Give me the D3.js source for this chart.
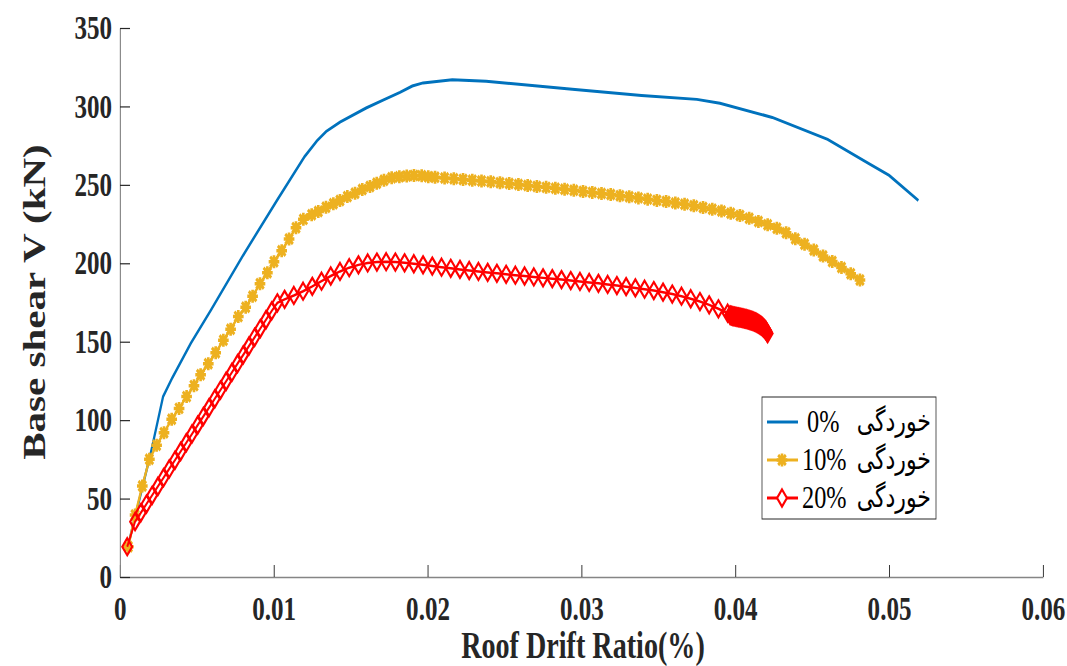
<!DOCTYPE html>
<html>
<head>
<meta charset="utf-8">
<script src="https://cdn.jsdelivr.net/npm/d3@7"></script>
<style>
body { margin: 0; background: #fff; }
</style>
</head>
<body>
<svg id="chart"></svg>
<script>
// tick labels
var xTicks = [0, 0.01, 0.02, 0.03, 0.04, 0.05, 0.06];
var yTicks = [0, 50, 100, 150, 200, 250, 300, 350];

// 0% corrosion (blue line, no markers)
var drift0 = [0.0005, 0.0015, 0.002, 0.0028, 0.0034, 0.0046, 0.0059, 0.0080, 0.0102, 0.0120, 0.0128, 0.0134, 0.0143,
    0.0160, 0.0171, 0.0182, 0.0190, 0.0197, 0.0216, 0.0238, 0.0294, 0.0339, 0.0375, 0.0390, 0.0424, 0.0460,
    0.0486, 0.0500, 0.0519];
var shear0 = [19, 59, 79, 115, 127, 149, 170, 205, 240, 268, 278, 284, 290,
    299, 304, 309, 313, 315, 317, 316, 311, 307, 304.5, 302, 293, 279,
    264, 256, 240];

// 10% corrosion (yellow, asterisks)
var drift10 = [0.00054, 0.00098, 0.00145, 0.00191, 0.00238, 0.00286, 0.00336, 0.00384, 0.00433, 0.00481,
    0.00524, 0.00574, 0.00622, 0.00672, 0.00719, 0.00769, 0.00817, 0.00862, 0.0091, 0.00958,
    0.01001, 0.01051, 0.01099, 0.01144, 0.01192, 0.01246, 0.01289, 0.01339, 0.01387, 0.0143,
    0.01478, 0.01528, 0.01575, 0.01625, 0.01669, 0.01716, 0.01766, 0.01816, 0.01864, 0.01911,
    0.01961, 0.02004, 0.02048, 0.0211, 0.0217, 0.0223, 0.0229, 0.0235, 0.0241, 0.0247,
    0.0253, 0.0259, 0.0265, 0.0271, 0.0277, 0.0283, 0.0289, 0.0295, 0.0301, 0.0307,
    0.0313, 0.0319, 0.0325, 0.0331, 0.0337, 0.0343, 0.0349, 0.0355, 0.0361, 0.0367,
    0.0373, 0.0379, 0.0385, 0.0391, 0.0397, 0.0403, 0.0409, 0.0415, 0.0421, 0.0427,
    0.0433, 0.0439, 0.0445, 0.0451, 0.0457, 0.0463, 0.0469, 0.0475, 0.0481];
var shear10 = [19.3, 39.5, 58, 75, 84, 92, 100.5, 107.5, 115, 122,
    129, 136, 143, 151, 158, 166, 172, 179, 187, 194,
    201, 208, 215.5, 222.7, 228, 231, 233, 235.7, 238, 240,
    242.5, 244.6, 247, 249, 251, 253, 254.5, 255.2, 255.6, 256,
    255.8, 255.2, 254.8, 254.3, 253.9, 253.4, 253.0, 252.5, 252.0, 251.4,
    250.8, 250.2, 249.6, 249.0, 248.4, 247.8, 247.2, 246.5, 245.8, 245.2,
    244.5, 243.8, 243.1, 242.4, 241.7, 240.9, 240.1, 239.4, 238.5, 237.6,
    236.7, 235.6, 234.5, 233.3, 231.9, 230.4, 228.7, 226.7, 224.6, 222.3,
    219.4, 215.7, 212.1, 208.4, 204.7, 201.2, 197.3, 193.3, 189.3];

// 20% corrosion (red, diamonds) - very dense steps at the end
var drift20 = [0.00047, 0.00098, 0.00135, 0.00172, 0.00209, 0.00246, 0.00283, 0.0032, 0.00357, 0.00394,
    0.00431, 0.00468, 0.00505, 0.00542, 0.00579, 0.00616, 0.00653, 0.0069, 0.00727, 0.00764,
    0.00801, 0.00838, 0.00875, 0.00912, 0.00949, 0.00986, 0.01023, 0.0107, 0.0113, 0.0119,
    0.0125, 0.0131, 0.0137, 0.0143, 0.0149, 0.0155, 0.0161, 0.0167, 0.0173, 0.0179,
    0.0185, 0.0191, 0.0197, 0.0203, 0.0209, 0.0215, 0.0221, 0.0227, 0.0233, 0.0239,
    0.0245, 0.0251, 0.0257, 0.0263, 0.0269, 0.0275, 0.0281, 0.0287, 0.0293, 0.0299,
    0.0305, 0.0311, 0.0317, 0.0323, 0.0329, 0.0335, 0.0341, 0.0347, 0.0353, 0.0359,
    0.0365, 0.0371, 0.0377, 0.0383, 0.0389, 0.0395,
    0.03965, 0.0397, 0.03975, 0.0398, 0.03985, 0.0399, 0.03995, 0.0400, 0.04005, 0.0401,
    0.04015, 0.0402, 0.04025, 0.0403, 0.04035, 0.0404, 0.04045, 0.0405, 0.04055, 0.0406,
    0.04065, 0.0407, 0.04075, 0.0408, 0.04085, 0.0409, 0.04095, 0.0410, 0.04105, 0.0411,
    0.04115, 0.0412, 0.04125, 0.0413, 0.04135, 0.0414, 0.04145, 0.0415, 0.04155, 0.0416,
    0.04165, 0.0417, 0.04175, 0.0418, 0.04185, 0.0419, 0.04195, 0.0420, 0.04205, 0.0421];
var shear20 = [19.3, 35.3, 40.9, 46.5, 52.1, 57.7, 63.3, 68.9, 74.4, 80.0,
    85.6, 91.2, 96.8, 102.4, 108.0, 113.6, 119.2, 124.8, 130.4, 136.0,
    141.6, 147.2, 152.8, 158.4, 164.0, 169.6, 174.8, 177.0, 179.5, 182.2,
    185.3, 188.6, 191.9, 194.8, 197.2, 199.0, 200.2, 200.8, 201.0, 200.8,
    200.3, 199.7, 199.0, 198.2, 197.5, 196.8, 196.1, 195.4, 194.8, 194.2,
    193.6, 193.0, 192.4, 191.9, 191.3, 190.7, 190.2, 189.6, 189.0, 188.4,
    187.8, 187.2, 186.5, 185.8, 185.1, 184.3, 183.5, 182.6, 181.6, 180.4,
    179.0, 177.4, 175.6, 173.5, 171.0, 168.2,
    166.9, 166.8, 166.6, 166.4, 166.3, 166.2, 166.1, 166.0, 165.9, 165.8,
    165.7, 165.6, 165.5, 165.4, 165.3, 165.2, 165.1, 165.0, 164.85, 164.7,
    164.6, 164.5, 164.35, 164.2, 164.05, 163.9, 163.75, 163.6, 163.45, 163.3,
    163.1, 162.9, 162.7, 162.5, 162.25, 162.0, 161.7, 161.4, 161.1, 160.8,
    160.45, 160.1, 159.65, 159.2, 158.7, 158.2, 157.6, 157.0, 156.1, 155.2];

var legendPct = ["0%", "10%", "20%"];
var legendWord = "خوردگی";

// the original picture is squeezed sideways, so draw wide and squash
var s = 0.76;
var W = 1067 / s, H = 666;
var serif = "'Liberation Serif', 'Times New Roman', serif";

var svg = d3.select("#chart")
    .attr("width", 1067)
    .attr("height", 666)
    .attr("viewBox", "0 0 " + W + " " + H)
    .attr("preserveAspectRatio", "none");

var x = d3.scaleLinear().domain([0, 0.06]).range([120 / s, 1043 / s]);
var y = d3.scaleLinear().domain([0, 350]).range([577, 28]);

function styleAxis(g) {
    g.select(".domain").attr("stroke", "#858585").attr("stroke-width", 1.5);
    g.selectAll(".tick line").attr("stroke", "#262626").attr("stroke-width", 1.2);
    g.selectAll("text")
        .attr("font-family", serif)
        .attr("font-weight", "bold")
        .attr("font-size", 33)
        .attr("fill", "#262626");
}

svg.append("g")
    .attr("transform", "translate(0,577)")
    .call(d3.axisBottom(x)
        .tickValues(xTicks)
        .tickFormat(function(d) { return d === 0 ? "0" : d3.format(".2f")(d); })
        .tickSize(-12)
        .tickSizeOuter(0)
        .tickPadding(20))
    .call(styleAxis);

svg.append("g")
    .attr("transform", "translate(" + (120 / s) + ",0)")
    .call(d3.axisLeft(y)
        .tickValues(yTicks)
        .tickSize(-10 / s)
        .tickSizeOuter(0)
        .tickPadding(8 / s))
    .call(styleAxis);

// axis titles
svg.append("text")
    .attr("x", 583 / s)
    .attr("y", 658)
    .attr("text-anchor", "middle")
    .attr("font-family", serif)
    .attr("font-weight", "bold")
    .attr("font-size", 37)
    .attr("fill", "#262626")
    .text("Roof Drift Ratio(%)");

svg.append("text")
    .attr("transform", "translate(" + (45 / s) + ",302) rotate(-90)")
    .attr("text-anchor", "middle")
    .attr("font-family", serif)
    .attr("font-weight", "bold")
    .attr("font-size", 41)
    .attr("fill", "#262626")
    .text("Base shear V (kN)");

var line = d3.line()
    .x(function(d) { return x(d[0]); })
    .y(function(d) { return y(d[1]); });

var pts0 = d3.zip(drift0, shear0);
var pts10 = d3.zip(drift10, shear10);
var pts20 = d3.zip(drift20, shear20);

var blue = "#0072BD", yellow = "#EDB120", red = "#FF0000";

var starPath = "M-7,0H7M0,-6.5V6.5M-5,-5L5,5M-5,5L5,-5";
var diamondPath = "M0,-8.5L6.5,0L0,8.5L-6.5,0Z";

svg.append("path")
    .attr("d", line(pts0))
    .attr("fill", "none")
    .attr("stroke", blue)
    .attr("stroke-width", 3);

svg.append("path")
    .attr("d", line(pts10))
    .attr("fill", "none")
    .attr("stroke", yellow)
    .attr("stroke-width", 3);

svg.append("g").selectAll("path")
    .data(pts10)
    .enter()
    .append("path")
    .attr("transform", function(d) { return "translate(" + x(d[0]) + "," + y(d[1]) + ")"; })
    .attr("d", starPath)
    .attr("fill", "none")
    .attr("stroke", yellow)
    .attr("stroke-width", 3.5);

svg.append("path")
    .attr("d", line(pts20))
    .attr("fill", "none")
    .attr("stroke", red)
    .attr("stroke-width", 2.5);

svg.append("g").selectAll("path")
    .data(pts20)
    .enter()
    .append("path")
    .attr("transform", function(d) { return "translate(" + x(d[0]) + "," + y(d[1]) + ")"; })
    .attr("d", diamondPath)
    .attr("fill", "none")
    .attr("stroke", red)
    .attr("stroke-width", 2.6);

// legend
var legend = svg.append("g");
legend.append("rect")
    .attr("x", 762 / s)
    .attr("y", 397)
    .attr("width", (936 - 762) / s)
    .attr("height", 122)
    .attr("fill", "#fff")
    .attr("stroke", "#262626")
    .attr("stroke-width", 1);

var legendColors = [blue, yellow, red];
var legendMarks = [null, starPath, diamondPath];
var rowY = [422, 460, 498];

legendPct.forEach(function(label, i) {
    var cy = rowY[i];
    legend.append("line")
        .attr("x1", 767 / s).attr("x2", 798 / s)
        .attr("y1", cy).attr("y2", cy)
        .attr("stroke", legendColors[i])
        .attr("stroke-width", 3);
    if (legendMarks[i]) {
        legend.append("path")
            .attr("transform", "translate(" + (782 / s) + "," + cy + ")")
            .attr("d", legendMarks[i])
            .attr("fill", i === 2 ? "#fff" : "none")
            .attr("stroke", legendColors[i])
            .attr("stroke-width", i === 2 ? 2.6 : 3.5);
    }
    legend.append("text")
        .attr("x", (i === 0 ? 807 : 802) / s)
        .attr("y", cy + 10)
        .attr("font-family", serif)
        .attr("font-size", 32)
        .attr("fill", "#000")
        .text(label);
    legend.append("text")
        .attr("x", 931 / s)
        .attr("y", cy + 9)
        .attr("text-anchor", "end")
        .attr("font-family", "'DejaVu Sans', sans-serif")
        .attr("font-size", 29)
        .attr("fill", "#000")
        .text(legendWord);
});
</script>
</body>
</html>
